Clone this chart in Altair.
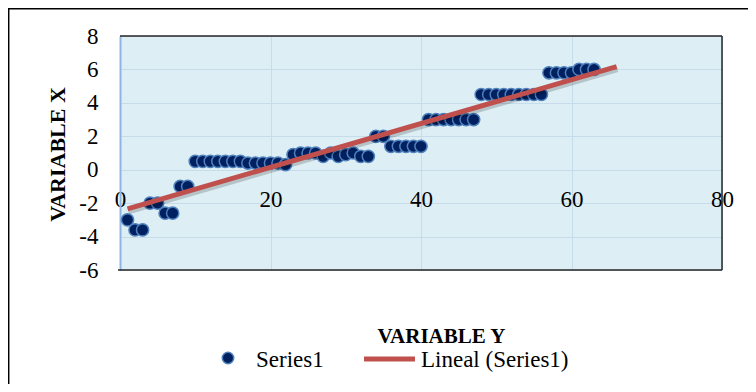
import altair as alt
import pandas as pd

# ---- data ----
x_vals = list(range(1, 64))
y_vals = [
    -3.0, -3.6, -3.6, -2.0, -2.0, -2.6, -2.6, -1.0, -1.0,
    0.5, 0.5, 0.5, 0.5, 0.5, 0.5, 0.5,
    0.4, 0.4, 0.4, 0.4, 0.4, 0.3,
    0.9, 1.0, 1.0, 1.0, 0.8, 1.0, 0.8, 0.9, 1.0, 0.8, 0.8,
    2.0, 2.0,
    1.4, 1.4, 1.4, 1.4, 1.4,
    3.0, 3.0, 3.0, 3.0, 3.0, 3.0, 3.0,
    4.5, 4.5, 4.5, 4.5, 4.5, 4.5, 4.5, 4.5, 4.5,
    5.8, 5.8, 5.8, 5.8, 6.0, 6.0, 6.0,
]
x_ticks = [0, 20, 40, 60, 80]
y_ticks = [-6, -4, -2, 0, 2, 4, 6, 8]
trend_extent = [1, 66]
legend_labels = ["Series1", "Lineal (Series1)"]
x_title = "VARIABLE Y"
y_title = "VARIABLE X"

df = pd.DataFrame({"x": x_vals, "y": y_vals})

W, H = 602, 234
FONT = "Liberation Serif"
NAVY = "#002060"
EDGE = "#4F81BD"
RED = "#C0504D"
GRID = "#C6DCEB"

xs = alt.Scale(domain=[0, 80], nice=False, zero=False)
ys = alt.Scale(domain=[-6, 8], nice=False, zero=False)

x_axis = alt.Axis(
    values=x_ticks, offset=-100, grid=True, gridColor=GRID, gridWidth=1,
    domain=False, ticks=False, tickSize=0, labelPadding=18,
    labelFlush=False, labelOverlap=False, labelExpr="toString(datum.value)",
    labelFont=FONT, labelFontSize=23, labelColor="black",
    title=x_title, titleFont=FONT, titleFontSize=21, titleFontWeight="bold",
    titleColor="black", titleX=321, titleY=172, titleBaseline="alphabetic",
    titleAlign="center",
)
y_axis = alt.Axis(
    values=y_ticks, grid=True, gridColor=GRID, gridWidth=1,
    domain=True, domainColor="#8DB4E2", domainWidth=2, ticks=False, tickSize=0,
    labelPadding=22, labelFlush=False, labelOverlap=False, labelBound=False,
    labelExpr="toString(datum.value)",
    labelFont=FONT, labelFontSize=23, labelColor="black",
    title=y_title, titleFont=FONT, titleFontSize=22, titleFontWeight="bold",
    titleColor="black", titleX=-63, titleY=118, titleAngle=270,
    titleBaseline="middle", titleAlign="center",
)

X = alt.X("x:Q", scale=xs, axis=x_axis)
Y = alt.Y("y:Q", scale=ys, axis=y_axis)

base = alt.Chart(df)

points = base.mark_point(
    filled=True, shape="circle", size=150, fill=NAVY, stroke=EDGE,
    strokeWidth=1.5, opacity=1,
).encode(x=X, y=Y)

reg = base.transform_regression("x", "y", extent=trend_extent)
shadow = reg.mark_line(color="black", opacity=0.18, strokeWidth=5, yOffset=3, xOffset=1).encode(x=X, y=Y)
trend = reg.mark_line(color=RED, strokeWidth=5).encode(x=X, y=Y)

one = pd.DataFrame({"k": [0]})
# plot-area border (top, right, bottom)
b_top = alt.Chart(one).mark_rule(color="#262626", strokeWidth=1.5).encode(
    x=alt.value(0), x2=alt.value(W), y=alt.value(0))
b_right = alt.Chart(one).mark_rule(color="#262626", strokeWidth=1.5).encode(
    x=alt.value(W), y=alt.value(0), y2=alt.value(H))
b_bot = alt.Chart(one).mark_rule(color="#262626", strokeWidth=1.5).encode(
    x=alt.value(-2), x2=alt.value(W), y=alt.value(H))
# outer chart border
o_top = alt.Chart(one).mark_rule(color="black", strokeWidth=1.5).encode(
    x=alt.value(-112), x2=alt.value(700), y=alt.value(-27.3))
o_left = alt.Chart(one).mark_rule(color="black", strokeWidth=1.5).encode(
    x=alt.value(-111.3), y=alt.value(-28), y2=alt.value(400))

# legend
leg_pt = alt.Chart(one).mark_point(
    filled=True, shape="circle", size=130, fill=NAVY, stroke=EDGE, strokeWidth=1.5, opacity=1
).encode(x=alt.value(108), y=alt.value(322))
leg_t1 = alt.Chart(pd.DataFrame({"t": [legend_labels[0]]})).mark_text(
    font=FONT, fontSize=23, align="left", baseline="alphabetic", color="black"
).encode(x=alt.value(136), y=alt.value(331), text="t:N")
leg_line = alt.Chart(one).mark_rule(color=RED, strokeWidth=5).encode(
    x=alt.value(244), x2=alt.value(295), y=alt.value(323))
leg_t2 = alt.Chart(pd.DataFrame({"t": [legend_labels[1]]})).mark_text(
    font=FONT, fontSize=23, align="left", baseline="alphabetic", color="black"
).encode(x=alt.value(301), y=alt.value(331), text="t:N")

chart = alt.layer(
    points, shadow, trend, b_top, b_right, b_bot, o_top, o_left,
    leg_pt, leg_t1, leg_line, leg_t2,
).properties(
    width=W, height=H,
    autosize=alt.AutoSizeParams(type="none"),
    padding={"left": 112, "top": 28, "right": 26, "bottom": 114},
    background="white",
).configure_view(
    fill="#DDEFF5", stroke=None,
)

chart.save("out.html", embed_options={"renderer": "svg", "actions": False})
